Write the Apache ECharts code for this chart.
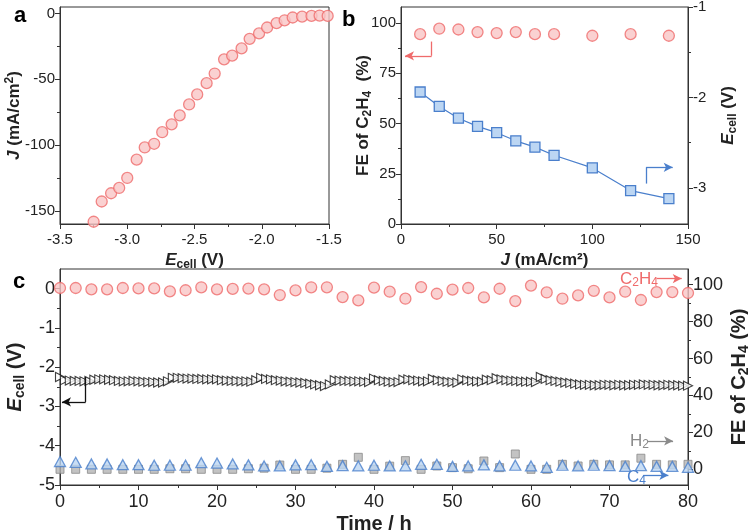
<!DOCTYPE html>
<html>
<head>
<meta charset="utf-8">
<script src="https://cdn.jsdelivr.net/npm/echarts@6/dist/echarts.min.js"></script>
<style>
  html,body{margin:0;padding:0;background:#fff;}
  #chart{width:748px;height:531px;}
</style>
</head>
<body>
<div id="chart"></div>
<script>
/* panel a : J vs Ecell */
const aVolt = [-3.25,-3.19,-3.12,-3.06,-3.00,-2.93,-2.87,-2.80,-2.74,-2.67,-2.61,-2.54,-2.48,-2.41,
               -2.35,-2.28,-2.22,-2.15,-2.09,-2.02,-1.96,-1.89,-1.83,-1.77,-1.70,-1.63,-1.57,-1.51];
const aCurrent = [-158.3,-142.9,-136.6,-132.6,-125.0,-111.1,-101.8,-99.0,-90.2,-84.2,-77.4,-69.1,-61.5,-52.9,
                  -45.6,-34.8,-32.0,-26.5,-19.2,-15.1,-10.6,-7.3,-5.1,-3.0,-2.3,-1.8,-1.5,-1.8];

/* panel b : FE and Ecell vs J */
const bJ = [10,20,30,40,50,60,70,80,100,120,140];
const bFE = [94.5,97.2,96.8,95.5,95.0,95.5,94.5,94.5,93.7,94.5,93.7];
const bEcell = [-1.94,-2.10,-2.23,-2.32,-2.39,-2.48,-2.55,-2.64,-2.78,-3.03,-3.12];

/* panel c : stability */
const cHours = [0,2,4,6,8,10,12,14,16,18,20,22,24,26,28,30,32,34,36,38,40,
                42,44,46,48,50,52,54,56,58,60,62,64,66,68,70,72,74,76,78,80];
const cFeC2H4 = [98.2,98.2,97.5,97.5,98.2,98.0,98.0,96.4,97.0,98.6,97.5,97.7,97.9,97.5,94.4,96.9,98.6,98.6,93.3,91.5,98.4,
                 96.2,92.4,98.7,95.1,97.3,98.2,93.1,97.8,91.1,99.5,95.8,92.4,94.2,96.7,93.1,96.2,91.7,96.0,96.0,95.5];
const cFeC4 = [4.2,3.8,2.9,2.9,2.5,2.5,2.2,2.2,2.2,3.6,3.4,2.9,2.4,1.8,1.8,2.4,2.5,1.6,2.0,1.8,2.2,
               1.8,1.9,2.7,2.7,1.6,1.8,2.4,1.8,2.2,1.8,1.1,2.2,1.8,2.2,2.0,1.6,2.0,1.6,1.6,1.1];
const cFeH2 = [0,0,0,0,0,0,0,0.3,0.3,0,0,0,0.3,0.6,2.3,0,0,0.6,2.7,6.5,0,
               1.7,4.7,0,1.8,0.9,0.3,4.5,0.9,8.3,0,0,2.7,1.8,2.7,2.4,2.4,6.0,2.7,2.4,2.7];
const cStep = 0.625; // h between Ecell readings
const cEcell = [
  -2.25,-2.33,-2.34,-2.35,-2.35,-2.36,-2.35,-2.32,
  -2.31,-2.31,-2.32,-2.33,-2.35,-2.36,-2.36,-2.35,
  -2.36,-2.37,-2.38,-2.38,-2.39,-2.39,-2.36,-2.27,
  -2.27,-2.28,-2.29,-2.29,-2.30,-2.30,-2.31,-2.31,
  -2.31,-2.33,-2.34,-2.35,-2.35,-2.36,-2.36,-2.37,
  -2.33,-2.27,-2.30,-2.31,-2.33,-2.34,-2.36,-2.37,
  -2.38,-2.39,-2.40,-2.42,-2.44,-2.46,-2.48,-2.44,
  -2.33,-2.34,-2.35,-2.35,-2.36,-2.36,-2.37,-2.38,
  -2.29,-2.33,-2.35,-2.37,-2.38,-2.38,-2.32,-2.31,
  -2.33,-2.34,-2.36,-2.36,-2.30,-2.33,-2.35,-2.37,
  -2.38,-2.39,-2.31,-2.33,-2.35,-2.36,-2.37,-2.32,
  -2.33,-2.28,-2.31,-2.33,-2.34,-2.35,-2.36,-2.37,
  -2.37,-2.38,-2.25,-2.30,-2.33,-2.35,-2.37,-2.39,
  -2.40,-2.42,-2.44,-2.45,-2.45,-2.46,-2.46,-2.45,
  -2.45,-2.46,-2.45,-2.46,-2.46,-2.45,-2.45,-2.44,
  -2.45,-2.45,-2.46,-2.46,-2.45,-2.46,-2.46,-2.47,
  -2.47
];

/* tick values */
const aYTicks = [-150,-100,-50,0];
const aYMinor = [-125,-75,-25];
const bYTicks = [0,25,50,75,100];
const bYMinor = [12.5,37.5,62.5,87.5];
const bY2Ticks = [-3,-2,-1];
const bY2Minor = [-2.5,-1.5];
const cYTicks = [-5,-4,-3,-2,-1,0];
const cYMinor = [-4.5,-3.5,-2.5,-1.5,-0.5];
const cY2Ticks = [0,20,40,60,80,100];
const cY2Minor = [10,30,50,70,90];

const FONT = 'Liberation Sans, Arial, Helvetica, sans-serif';
const INK = '#222';

const RED = '#ef6b6b', RED_FILL = '#f9c6c6';
const BLUE = '#4a7fcc', BLUE_FILL = '#bcd6f3';
const GRAY = '#8a8a8a', GRAY_FILL = '#b4b4b4';

function nameStyle(size){
    const sub = Math.round(size*0.68);
    return {
        fontFamily:FONT, fontSize:size, fontWeight:'bold', color:INK,
        rich:{
            b:{fontFamily:FONT,fontSize:size,fontWeight:'bold',color:INK,lineHeight:size+4},
            i:{fontFamily:FONT,fontSize:size,fontWeight:'bold',fontStyle:'italic',color:INK,lineHeight:size+4},
            s:{fontFamily:FONT,fontSize:sub,fontWeight:'bold',color:INK,verticalAlign:'bottom',lineHeight:sub},
            sup:{fontFamily:FONT,fontSize:sub,fontWeight:'bold',color:INK,verticalAlign:'top',lineHeight:sub}
        }
    };
}

function xAx(grid,min,max,interval,fs,name,gap,fmt){
    return {
        type:'value', gridIndex:grid, min, max, interval,
        name, nameLocation:'middle', nameGap:gap, nameMoveOverlap:false, nameTextStyle:nameStyle(fs+2),
        axisLine:{show:true,onZero:false,lineStyle:{color:'#333',width:1}},
        axisTick:{show:true,inside:false,length:5,lineStyle:{color:'#333'}},
        minorTick:{show:true,splitNumber:2,length:3,lineStyle:{color:'#333'}},
        axisLabel:{color:INK,fontSize:fs,fontFamily:FONT,margin:8,formatter:fmt},
        splitLine:{show:false}
    };
}

function yAx(grid,pos,min,max,ticks,fs,name,gap){
    return {
        type:'value', gridIndex:grid, position:pos, min, max,
        name, nameLocation:'middle', nameGap:gap, nameRotate:90, nameMoveOverlap:false,
        nameTextStyle:nameStyle(fs+2),
        axisLine:{show:true,onZero:false,lineStyle:{color:'#333',width:1}},
        axisTick:{show:true,inside:false,length:5,customValues:ticks,lineStyle:{color:'#333'}},
        axisLabel:{color:INK,fontSize:fs,fontFamily:FONT,margin:5,customValues:ticks},
        splitLine:{show:false}
    };
}

function yMinor(grid,pos,min,max,ticks){
    return {
        type:'value', gridIndex:grid, position:pos, min, max,
        axisLine:{show:false,onZero:false},
        axisTick:{show:true,inside:false,length:3,customValues:ticks,lineStyle:{color:'#333'}},
        axisLabel:{show:false},
        splitLine:{show:false}
    };
}

function arrows(segs,color){
    return {
        silent:true, animation:false,
        symbol:['none','none'],
        label:{show:false},
        emphasis:{disabled:true},
        lineStyle:{color,width:1.3,type:'solid'},
        data:segs.map(s=>[
            {coord:s[0],symbol:'none'},
            {coord:s[1],symbol:s[2]?'arrow':'none',symbolSize:[7,9]}
        ])
    };
}

const chart = echarts.init(document.getElementById('chart'),null,{renderer:'canvas'});

const eName = '{i|E}{s|cell}{b| (V)}';
const feName = '{b|FE of C}{s|2}{b|H}{s|4}{b| (%)}';

const gridBase = {show:true,borderColor:'#333',borderWidth:1,containLabel:false,outerBoundsMode:'none'};

const option = {
    animation:false,
    textStyle:{fontFamily:FONT},
    grid:[
        Object.assign({left:60,top:7,width:269,height:217},gridBase),
        Object.assign({left:401,top:7,width:287,height:217},gridBase),
        Object.assign({left:60,top:269,width:628,height:216},gridBase)
    ],
    xAxis:[
        xAx(0,-3.5,-1.5,0.5,15,eName,26,v=>v.toFixed(1)),
        xAx(1,0,150,50,15,'{i|J}{b| (mA/cm²)}',26),
        xAx(2,0,80,10,18,'{b|Time / h}',27)
    ],
    yAxis:[
        yAx(0,'left',-160,5,aYTicks,15,'{i|J}{b| (mA/cm}{sup|2}{b|)}',35),
        yMinor(0,'left',-160,5,aYMinor),
        yAx(1,'left',0,108,bYTicks,15,'{b|FE of C}{s|2}{b|H}{s|4}{b|  (%)}',27),
        yMinor(1,'left',0,108,bYMinor),
        yAx(1,'right',-3.4,-1,bY2Ticks,15,eName,30),
        yMinor(1,'right',-3.4,-1,bY2Minor),
        yAx(2,'left',-5,0.5,cYTicks,18,eName,33),
        yMinor(2,'left',-5,0.5,cYMinor),
        yAx(2,'right',-8.5,108.5,cY2Ticks,18,feName,39),
        yMinor(2,'right',-8.5,108.5,cY2Minor)
    ],
    series:[
        {
            type:'scatter', xAxisIndex:0, yAxisIndex:0,
            data:aVolt.map((v,i)=>[v,aCurrent[i]]),
            symbol:'circle', symbolSize:11,
            itemStyle:{color:RED_FILL,borderColor:RED,borderWidth:1.3}
        },
        {
            type:'scatter', xAxisIndex:1, yAxisIndex:2,
            data:bJ.map((v,i)=>[v,bFE[i]]),
            symbol:'circle', symbolSize:11,
            itemStyle:{color:RED_FILL,borderColor:RED,borderWidth:1.3},
            markLine:arrows([
                [[16,90.8],[16,83.7],false],
                [[16,83.7],[2.1,83.7],true]
            ],RED)
        },
        {
            type:'line', xAxisIndex:1, yAxisIndex:4,
            data:bJ.map((v,i)=>[v,bEcell[i]]),
            symbol:'rect', symbolSize:10, showAllSymbol:true,
            lineStyle:{color:BLUE,width:1.2},
            itemStyle:{color:BLUE_FILL,borderColor:BLUE,borderWidth:1.3},
            markLine:arrows([
                [[128.1,-2.953],[128.1,-2.773],false],
                [[128.1,-2.773],[142,-2.773],true]
            ],BLUE)
        },
        {
            type:'scatter', xAxisIndex:2, yAxisIndex:8,
            data:cHours.map((v,i)=>[v,cFeH2[i]]),
            symbol:'rect', symbolSize:8,
            itemStyle:{color:GRAY_FILL,borderColor:GRAY,borderWidth:1},
            markLine:arrows([[[74.9,15.4],[78.1,15.4],true]],GRAY)
        },
        {
            type:'scatter', xAxisIndex:2, yAxisIndex:8,
            data:cHours.map((v,i)=>[v,cFeC4[i]]),
            symbol:'triangle', symbolSize:[11,10],
            itemStyle:{color:BLUE_FILL,borderColor:BLUE,borderWidth:1.3},
            markLine:arrows([[[74.3,-3.2],[77.5,-3.2],true]],BLUE)
        },
        {
            type:'scatter', xAxisIndex:2, yAxisIndex:6,
            data:cEcell.map((v,i)=>[i*cStep,v]),
            symbol:'triangle', symbolRotate:-90, symbolSize:[9,9],
            itemStyle:{color:'#fff',borderColor:'#111',borderWidth:1.1},
            markLine:arrows([
                [[3.27,-2.25],[3.27,-2.885],false],
                [[3.27,-2.885],[0.25,-2.885],true]
            ],'#111')
        },
        {
            type:'scatter', xAxisIndex:2, yAxisIndex:8,
            data:cHours.map((v,i)=>[v,cFeC2H4[i]]),
            symbol:'circle', symbolSize:11,
            itemStyle:{color:RED_FILL,borderColor:RED,borderWidth:1.3},
            markLine:arrows([[[76.0,103.3],[79.2,103.3],true]],RED)
        }
    ],
    graphic:[
        {type:'text',x:14,y:16,style:{text:'a',font:'bold 22px '+FONT,fill:'#000',verticalAlign:'middle'}},
        {type:'text',x:342,y:20,style:{text:'b',font:'bold 22px '+FONT,fill:'#000',verticalAlign:'middle'}},
        {type:'text',x:13,y:282,style:{text:'c',font:'bold 22px '+FONT,fill:'#000',verticalAlign:'middle'}},
        {type:'text',x:620,y:279,style:{
            text:'{m|C}{s|2}{m|H}{s|4}', verticalAlign:'middle',
            rich:{
                m:{fontFamily:FONT,fontSize:17,fill:RED,lineHeight:20},
                s:{fontFamily:FONT,fontSize:12,fill:RED,verticalAlign:'bottom',lineHeight:12}
            }
        }},
        {type:'text',x:630,y:441,style:{
            text:'{m|H}{s|2}', verticalAlign:'middle',
            rich:{
                m:{fontFamily:FONT,fontSize:17,fill:GRAY,lineHeight:20},
                s:{fontFamily:FONT,fontSize:12,fill:GRAY,verticalAlign:'bottom',lineHeight:12}
            }
        }},
        {type:'text',x:627,y:477,style:{
            text:'{m|C}{s|4}', verticalAlign:'middle',
            rich:{
                m:{fontFamily:FONT,fontSize:17,fill:BLUE,lineHeight:20},
                s:{fontFamily:FONT,fontSize:12,fill:BLUE,verticalAlign:'bottom',lineHeight:12}
            }
        }}
    ]
};

chart.setOption(option);
</script>
</body>
</html>
